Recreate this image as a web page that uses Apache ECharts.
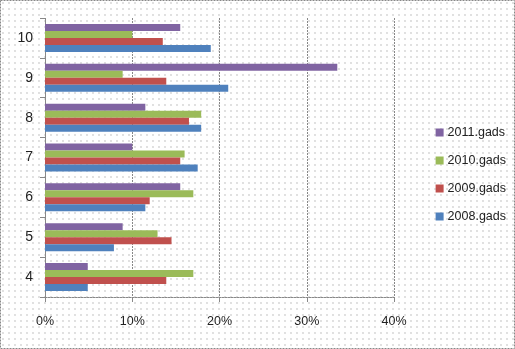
<!DOCTYPE html>
<html><head><meta charset="utf-8">
<script src="https://cdn.jsdelivr.net/npm/echarts@6/dist/echarts.min.js"></script>
<style>
html,body{margin:0;padding:0;background:#fff;}
#c{width:515px;height:349px;background-color:#fff;background-image:radial-gradient(circle,#d0d0d0 0.6px,transparent 0.9px);background-size:6px 6px;}
</style></head><body>
<div id="c"></div>
<script>
const categories = ['4','5','6','7','8','9','10'];
const s2008 = [4.9, 7.9, 11.5, 17.5, 17.9, 21.0, 19.0];
const s2009 = [13.9, 14.5, 12.0, 15.5, 16.5, 13.9, 13.5];
const s2010 = [17.0, 12.9, 17.0, 16.0, 17.9, 8.9, 10.0];
const s2011 = [4.9, 8.9, 15.5, 10.0, 11.5, 33.5, 15.5];
const seriesNames = ['2008.gads','2009.gads','2010.gads','2011.gads'];
const xTicks = [0, 10, 20, 30, 40];

const colors = ['#4F81BD','#C0504D','#9BBB59','#8064A2'];
const chart = echarts.init(document.getElementById('c'), null, {renderer:'canvas'});
const dataArr = [s2008, s2009, s2010, s2011];
const font = 'Liberation Sans';
// ECharts stacks horizontal bar series top-down, so feed them in reverse
const order = [3,2,1,0];
chart.setOption({
  backgroundColor: 'transparent',
  animation: false,
  graphic: [{type:'rect', shape:{x:0.5,y:0.5,width:514,height:348}, style:{fill:'none', stroke:'#888', lineWidth:1, lineDash:[2,1]}, silent:true}],
  grid: {left:45, right:121, top:18, bottom:52},
  legend: {
    orient:'vertical', right:4, top:121, itemGap:15,
    itemWidth:8, itemHeight:8, icon:'rect',
    data: seriesNames.slice().reverse(),
    textStyle:{fontFamily:font, fontSize:12.5, color:'#222', padding:[0,0,0,-1]}
  },
  xAxis: {
    type:'value', min:xTicks[0], max:xTicks[xTicks.length-1], interval:10,
    axisLine:{show:true, lineStyle:{color:'#888', type:[2,1]}},
    axisTick:{show:true, length:5, lineStyle:{color:'#888'}},
    splitLine:{show:true, lineStyle:{color:'#888', type:[2,1]}},
    axisLabel:{formatter: v => v + '%', fontFamily:font, fontSize:12.5, color:'#222', margin:18}
  },
  yAxis: {
    type:'category', data: categories,
    axisLine:{show:true, lineStyle:{color:'#888', type:[2,1]}},
    axisTick:{show:true, length:5, lineStyle:{color:'#888'}},
    axisLabel:{fontFamily:font, fontSize:14, color:'#222', margin:12}
  },
  series: order.map(i=>({
    name:seriesNames[i], type:'bar', data:dataArr[i], barWidth:7, barGap:'0%',
    itemStyle:{color:colors[i]}
  }))
});
</script></body></html>
